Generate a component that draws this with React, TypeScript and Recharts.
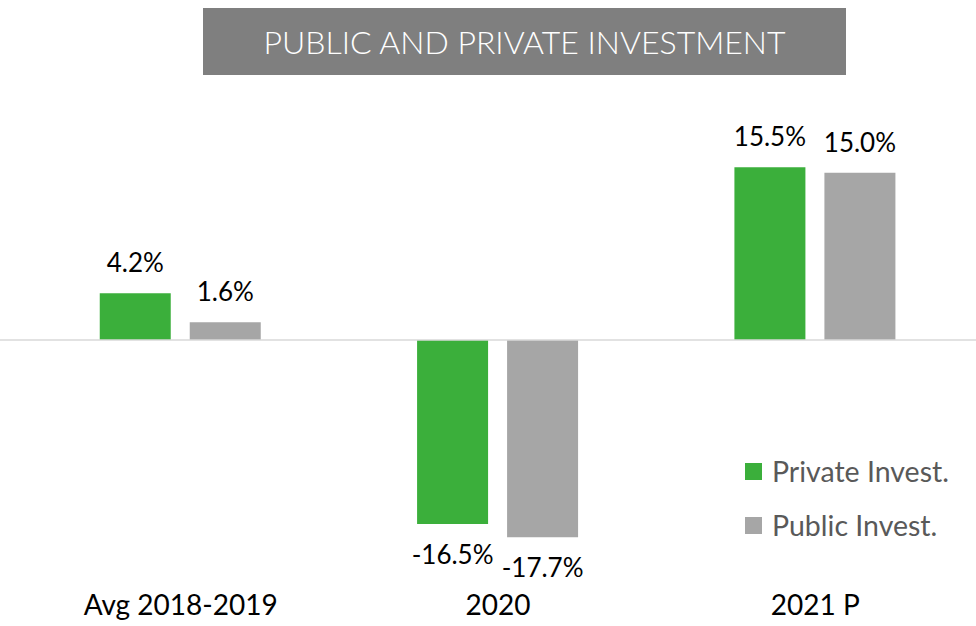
import React from 'react';
import {
  BarChart,
  Bar,
  XAxis,
  YAxis,
  ReferenceLine,
  LabelList,
} from 'recharts';

const categories = ['Avg 2018-2019', '2020', '2021 P'];
const privateInvest = [4.2, -16.5, 15.5];
const publicInvest = [1.6, -17.7, 15.0];

const COLORS = {
  private: '#3BAF3B',
  public: '#A6A6A6',
  title: '#7F7F7F',
  zero: '#D9D9D9',
  legendText: '#595959',
};

const FONT = 'Lato, "Open Sans", sans-serif';

const data = categories.map((name, i) => ({
  name,
  private: privateInvest[i],
  public: publicInvest[i],
}));

// labels sit above positive bars and below negative ones
function ValueLabel(props: any) {
  const { x, y, width, height, value } = props;
  const top = Math.min(y, y + height);
  const bottom = Math.max(y, y + height);
  const cx = x + width / 2;
  const ty = value >= 0 ? top - 21 : bottom + 40;
  return (
    <text x={cx} y={ty} textAnchor="middle" fill="#000" fontSize={26} fontFamily={FONT}>
      {`${value.toFixed(1)}%`}
    </text>
  );
}

function LegendBox() {
  const items = [
    { label: 'Private Invest.', color: COLORS.private },
    { label: 'Public Invest.', color: COLORS.public },
  ];
  return (
    <div style={{ position: 'absolute', left: 745, top: 444, fontFamily: FONT }}>
      {items.map((it) => (
        <div key={it.label} style={{ display: 'flex', alignItems: 'center', height: 54 }}>
          <span style={{ width: 17, height: 17, background: it.color, marginRight: 10 }} />
          <span style={{ fontSize: 28.5, color: COLORS.legendText }}>{it.label}</span>
        </div>
      ))}
    </div>
  );
}

export default function App() {
  return (
    <div style={{ position: 'absolute', left: 0, top: 0, width: 976, height: 626, background: '#fff' }}>
      <div
        style={{
          position: 'absolute',
          left: 203,
          top: 8,
          width: 643,
          height: 67,
          background: COLORS.title,
          color: '#fff',
          fontFamily: FONT,
          fontSize: 32,
          fontWeight: 300,
          display: 'flex',
          alignItems: 'center',
          justifyContent: 'center',
          zIndex: 1,
        }}
      >
        PUBLIC AND PRIVATE INVESTMENT
      </div>
      <BarChart
        width={976}
        height={626}
        data={data}
        margin={{ top: 117, right: 0, left: 0, bottom: 0 }}
        barCategoryGap="24.5%"
        barGap={19}
      >
        <XAxis
          dataKey="name"
          axisLine={false}
          tickLine={false}
          height={63}
          padding={{ left: 22, right: 2 }}
          tickMargin={26}
          tick={{ fill: '#000', fontSize: 28, fontFamily: FONT }}
        />
        <YAxis hide domain={[-20, 20]} />
        <ReferenceLine y={0} stroke={COLORS.zero} strokeWidth={1.5} />
        <Bar dataKey="private" fill={COLORS.private} isAnimationActive={false}>
          <LabelList dataKey="private" content={<ValueLabel />} />
        </Bar>
        <Bar dataKey="public" fill={COLORS.public} isAnimationActive={false}>
          <LabelList dataKey="public" content={<ValueLabel />} />
        </Bar>
      </BarChart>
      <LegendBox />
    </div>
  );
}
